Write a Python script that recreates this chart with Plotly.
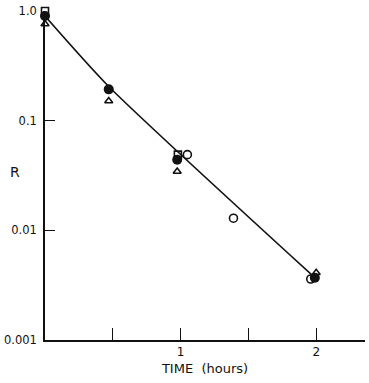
import plotly.graph_objects as go

# Data (time in hours, R on log scale)
filled_t = [0.0, 0.47, 0.975, 1.99]
filled_r = [0.90, 0.193, 0.044, 0.0037]

open_t = [1.05, 1.39, 1.96]
open_r = [0.049, 0.0129, 0.0036]

tri_t = [0.0, 0.47, 0.975, 2.0]
tri_r = [0.76, 0.151, 0.0344, 0.0041]

sq_t = [0.0, 0.98]
sq_r = [1.0, 0.049]

fit_t = [0.0, 0.47, 1.97]
fit_r = [0.90, 0.205, 0.0039]

y_tickvals = [1.0, 0.1, 0.01, 0.001]
y_ticktext = ["1.0", "0.1", "0.01", "0.001"]
x_tickvals = [0.5, 1, 1.5, 2]
x_ticktext = ["", "1", "", "2"]

FONT = "DejaVu Sans"

fig = go.Figure()
fig.add_trace(go.Scatter(x=fit_t, y=fit_r, mode="lines", cliponaxis=False,
                         line=dict(color="#111", width=1.6, shape="spline", smoothing=0.6),
                         showlegend=False))
fig.add_trace(go.Scatter(x=sq_t, y=sq_r, mode="markers", cliponaxis=False,
                         marker=dict(symbol="square-open", size=7, color="#111",
                                     line=dict(width=1.6)), showlegend=False))
fig.add_trace(go.Scatter(x=tri_t, y=tri_r, mode="markers", cliponaxis=False,
                         marker=dict(symbol="triangle-up-open", size=7, color="#111",
                                     line=dict(width=1.6)), showlegend=False))
fig.add_trace(go.Scatter(x=open_t, y=open_r, mode="markers", cliponaxis=False,
                         marker=dict(symbol="circle-open", size=8, color="#111",
                                     line=dict(width=1.6)), showlegend=False))
fig.add_trace(go.Scatter(x=filled_t, y=filled_r, mode="markers", cliponaxis=False,
                         marker=dict(symbol="circle", size=10, color="#111"),
                         showlegend=False))

fig.update_layout(
    width=369, height=383,
    margin=dict(l=40, r=4, t=8, b=43),
    paper_bgcolor="white", plot_bgcolor="white",
    font=dict(family=FONT, color="#111", size=11),
    xaxis=dict(range=[0, 2.36], showgrid=False, zeroline=False,
               showline=True, linecolor="#111", linewidth=1.6,
               ticks="inside", ticklen=12, tickwidth=1.4, tickcolor="#111",
               tickvals=x_tickvals, ticktext=x_ticktext,
               tickfont=dict(size=12),
               title=dict(text="TIME  (hours)", font=dict(size=13), standoff=6)),
    yaxis=dict(type="log", range=[-3, 0], showgrid=False, zeroline=False,
               showline=True, linecolor="#111", linewidth=1.6,
               ticks="inside", ticklen=10, tickwidth=1.4, tickcolor="#111",
               tickvals=y_tickvals, ticktext=y_ticktext,
               tickfont=dict(size=11.5), ticklabelstandoff=4),
    annotations=[dict(text="R", xref="paper", yref="paper", x=-0.095, y=0.51,
                      xanchor="center", yanchor="middle", showarrow=False,
                      font=dict(size=14, family=FONT))],
)

fig.write_html("out.html")
